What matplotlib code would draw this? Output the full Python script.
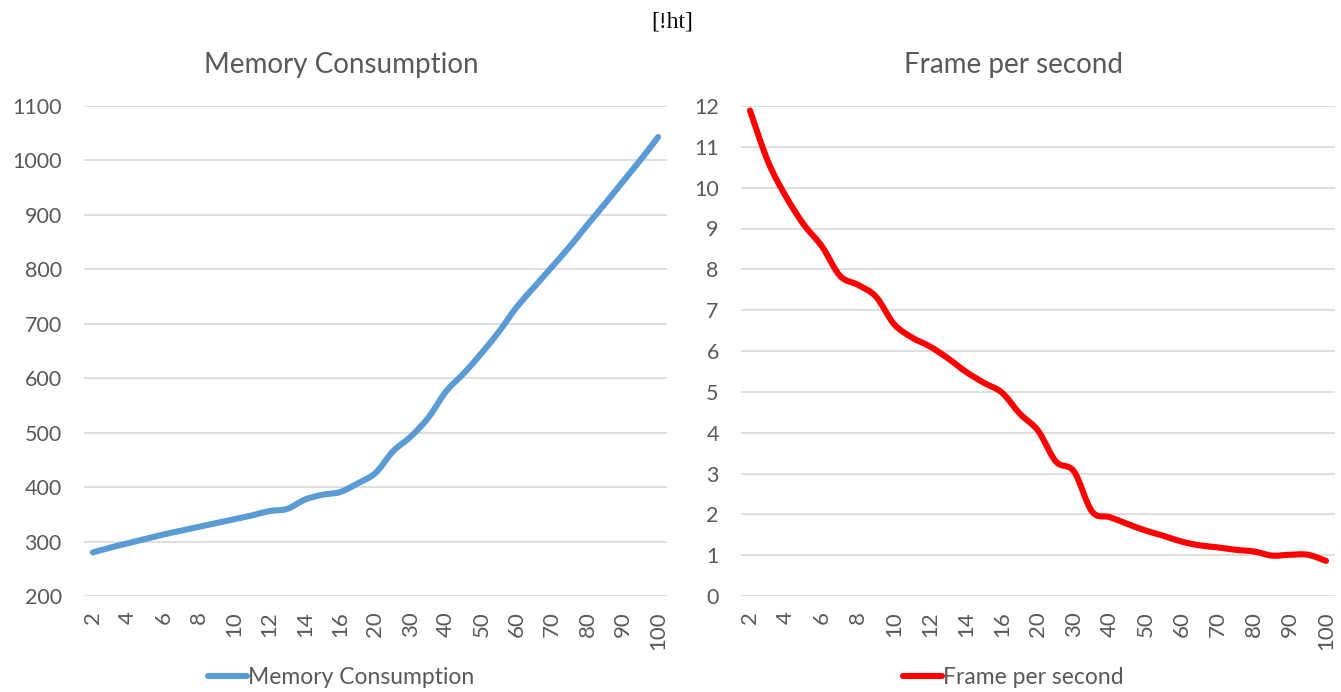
import matplotlib
matplotlib.use("Agg")
import matplotlib.pyplot as plt
from matplotlib.path import Path
from matplotlib.patches import PathPatch
from matplotlib.lines import Line2D

plt.rcParams['font.family'] = ['Lato', 'DejaVu Sans']

# x categories (number of objects)
categories = [2, 3, 4, 5, 6, 7, 8, 9, 10, 11, 12, 13, 14, 15, 16, 18,
              20, 25, 30, 35, 40, 45, 50, 55, 60, 65, 70, 75, 80, 85, 90, 95, 100]

memory = [280, 289, 297, 305, 313, 320, 327, 334, 341, 348, 356, 360, 377, 386, 391, 407,
          426, 466, 493, 528, 576, 609, 646, 686, 731, 768, 805, 842, 882, 921, 961, 1001, 1043]

fps = [11.89, 10.64, 9.78, 9.09, 8.56, 7.84, 7.62, 7.33, 6.66, 6.33, 6.11, 5.82, 5.49,
       5.22, 4.98, 4.46, 4.05, 3.29, 3.05, 2.07, 1.93, 1.76, 1.60, 1.47, 1.33, 1.24,
       1.19, 1.13, 1.09, 0.99, 1.01, 1.01, 0.86]

grey = '#595959'


def smooth_path(xs, ys):
    # Excel-like smoothed line: cubic Bezier segments through the points
    n = len(xs)
    verts = [(xs[0], ys[0])]
    codes = [Path.MOVETO]
    for i in range(n - 1):
        x0, y0 = xs[max(i - 1, 0)], ys[max(i - 1, 0)]
        x1, y1 = xs[i], ys[i]
        x2, y2 = xs[i + 1], ys[i + 1]
        x3, y3 = xs[min(i + 2, n - 1)], ys[min(i + 2, n - 1)]
        c1 = (x1 + (x2 - x0) / 6, y1 + (y2 - y0) / 6)
        c2 = (x2 - (x3 - x1) / 6, y2 - (y3 - y1) / 6)
        verts += [c1, c2, (x2, y2)]
        codes += [Path.CURVE4] * 3
    return Path(verts, codes)


W, H = 1341, 692
fig = plt.figure(figsize=(W / 100, H / 100), dpi=100)

fig.text(672 / W, 1 - 22 / H, '[!ht]', family='Liberation Serif', fontsize=17,
         ha='center', va='center', color='black')

panels = [
    (memory, '#5B9BD5', 'Memory Consumption', [84, 667], 341, (200, 1100), range(200, 1101, 100)),
    (fps, '#FF0000', 'Frame per second', [741, 1335], 1013, (0, 12), range(0, 13)),
]

idx = list(range(len(categories)))

for values, color, title, (x0, x1), xc, ylim, yticks in panels:
    ax = fig.add_axes([x0 / W, 1 - 596 / H, (x1 - x0) / W, (596 - 106) / H])
    patch = PathPatch(smooth_path(idx, values), fill=False, edgecolor=color,
                      lw=4.4, capstyle='round', joinstyle='round')
    ax.add_patch(patch)
    ax.set_xlim(-0.5, len(categories) - 0.5)
    ax.set_ylim(*ylim)
    ax.set_yticks(list(yticks))
    ax.set_xticks(idx[::2])
    ax.set_xticklabels([str(c) for c in categories[::2]], rotation=90)
    ax.tick_params(length=0, labelcolor=grey)
    ax.tick_params(axis='y', pad=16, labelsize=15.5)
    ax.tick_params(axis='x', pad=11, labelsize=16)
    ax.grid(axis='y', color='#D9D9D9', lw=1.2)
    ax.set_axisbelow(True)
    for s in ax.spines.values():
        s.set_visible(False)
    fig.text(xc / W, 1 - 65 / H, title, fontsize=20, color=grey,
             ha='center', va='center')
    handle = Line2D([], [], color=color, lw=4.4, solid_capstyle='round')
    fig.legend([handle], [title], loc='center', bbox_to_anchor=(xc / W, 1 - 678 / H),
               frameon=False, fontsize=16.5, labelcolor=grey, handlelength=1.7,
               handletextpad=0.05, borderpad=0, borderaxespad=0)

fig.savefig('out.png', dpi=100)
